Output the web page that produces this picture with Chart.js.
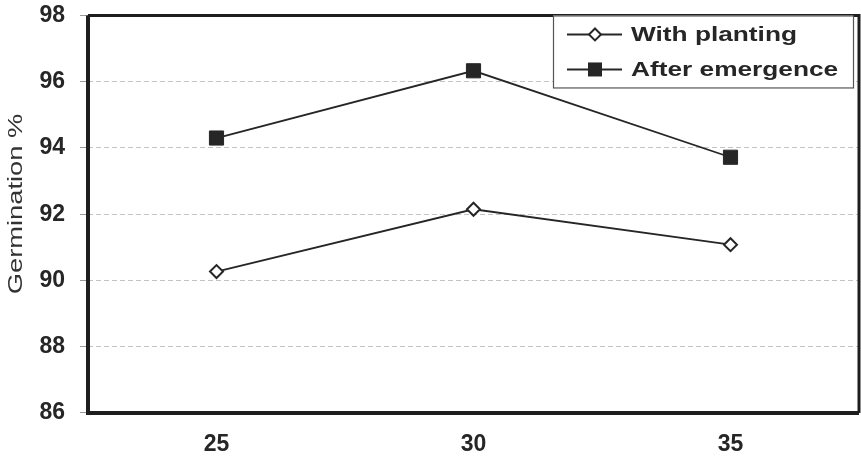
<!DOCTYPE html>
<html>
<head>
<meta charset="utf-8">
<script src="https://cdn.jsdelivr.net/npm/chart.js@4.4.0/dist/chart.umd.min.js"></script>
<style>
html,body{margin:0;padding:0;background:#fff;}
#wrap{width:861px;height:470px;position:relative;}
</style>
</head>
<body>
<div id="wrap"><canvas id="c" width="861" height="470"></canvas></div>
<script>
const categories = ['25', '30', '35'];
const withPlanting = [90.27, 92.15, 91.08];
const afterEmergence = [94.3, 96.33, 93.72];
const seriesNames = ['With planting', 'After emergence'];
const yMin = 86, yMax = 98, yStep = 2;
const yTitle = 'Germination %';

const ink = '#262626';

const framePlugin = {
  id: 'frame',
  afterDraw(chart) {
    const {ctx, chartArea: a} = chart;
    ctx.save();
    ctx.strokeStyle = '#1e1e1e';
    ctx.lineWidth = 4;
    ctx.beginPath();
    ctx.moveTo(a.left, a.top);
    ctx.lineTo(a.left, a.bottom);
    ctx.lineTo(a.right, a.bottom);
    ctx.stroke();
    ctx.lineWidth = 3;
    ctx.beginPath();
    ctx.moveTo(a.left, a.top);
    ctx.lineTo(a.right, a.top);
    ctx.lineTo(a.right, a.bottom);
    ctx.stroke();

    // y title
    ctx.fillStyle = '#333';
    ctx.font = '21px "Liberation Sans", Arial, sans-serif';
    ctx.textAlign = 'center';
    ctx.textBaseline = 'middle';
    ctx.translate(16, 204);
    ctx.rotate(-Math.PI / 2);
    ctx.scale(1.3, 1);
    ctx.fillText(yTitle, 0, 0);
    ctx.restore();

    // legend
    ctx.save();
    const bx = 553, by = a.top, bw = 300, bh = 72;
    ctx.fillStyle = '#fff';
    ctx.fillRect(bx, by, bw, bh);
    ctx.strokeStyle = '#555';
    ctx.lineWidth = 1.2;
    ctx.strokeRect(bx + 0.5, by + 0.5, bw, bh);
    const rows = [by + 19, by + 54];
    chart.data.datasets.forEach((ds, i) => {
      const y = rows[i];
      ctx.strokeStyle = ink;
      ctx.lineWidth = 2;
      ctx.beginPath();
      ctx.moveTo(567, y);
      ctx.lineTo(622, y);
      ctx.stroke();
      const mx = 595;
      if (ds.pointStyle === 'rect') {
        ctx.fillStyle = ink;
        ctx.fillRect(mx - 7, y - 7, 14, 14);
      } else {
        ctx.fillStyle = '#fff';
        ctx.beginPath();
        ctx.moveTo(mx, y - 6);
        ctx.lineTo(mx + 6, y);
        ctx.lineTo(mx, y + 6);
        ctx.lineTo(mx - 6, y);
        ctx.closePath();
        ctx.fill();
        ctx.lineWidth = 2;
        ctx.stroke();
      }
      ctx.save();
      ctx.fillStyle = ink;
      ctx.font = 'bold 21px "Liberation Sans", Arial, sans-serif';
      ctx.textAlign = 'left';
      ctx.textBaseline = 'middle';
      ctx.translate(631, y + 1);
      ctx.scale(1.25, 1);
      ctx.fillText(ds.label, 0, 0);
      ctx.restore();
    });
    ctx.restore();
  }
};

new Chart(document.getElementById('c'), {
  type: 'line',
  data: {
    labels: categories,
    datasets: [
      {
        label: seriesNames[0],
        data: withPlanting,
        borderColor: ink,
        borderWidth: 1.8,
        pointStyle: 'rectRot',
        pointRadius: 6.5,
        pointBackgroundColor: '#fff',
        pointBorderColor: ink,
        pointBorderWidth: 2,
        tension: 0
      },
      {
        label: seriesNames[1],
        data: afterEmergence,
        borderColor: ink,
        borderWidth: 1.8,
        pointStyle: 'rect',
        pointRadius: 10,
        pointBackgroundColor: ink,
        pointBorderColor: ink,
        pointBorderWidth: 1,
        tension: 0
      }
    ]
  },
  options: {
    responsive: false,
    animation: false,
    layout: {autoPadding: false, padding: {top: 14, right: 2, left: 0, bottom: 0}},
    plugins: {legend: {display: false}, tooltip: {enabled: false}, title: {display: false}},
    scales: {
      x: {
        offset: true,
        grid: {display: false, drawTicks: false},
        border: {display: false},
        ticks: {color: ink, padding: 18, font: {size: 23, weight: 'bold', family: '"Liberation Sans", Arial, sans-serif'}},
        afterFit(s) { s.height = 57; }
      },
      y: {
        min: yMin, max: yMax,
        grid: {color: '#c4c4c4', lineWidth: 1, tickLength: 8, tickColor: '#999', tickBorderDash: []},
        border: {display: false, dash: [5, 3]},
        ticks: {stepSize: yStep, color: ink, padding: 15, font: {size: 23, lineHeight: 0.04, weight: 'bold', family: '"Liberation Sans", Arial, sans-serif'}},
        afterFit(s) { s.width = 88; }
      }
    }
  },
  plugins: [framePlugin]
});
</script>
</body>
</html>
